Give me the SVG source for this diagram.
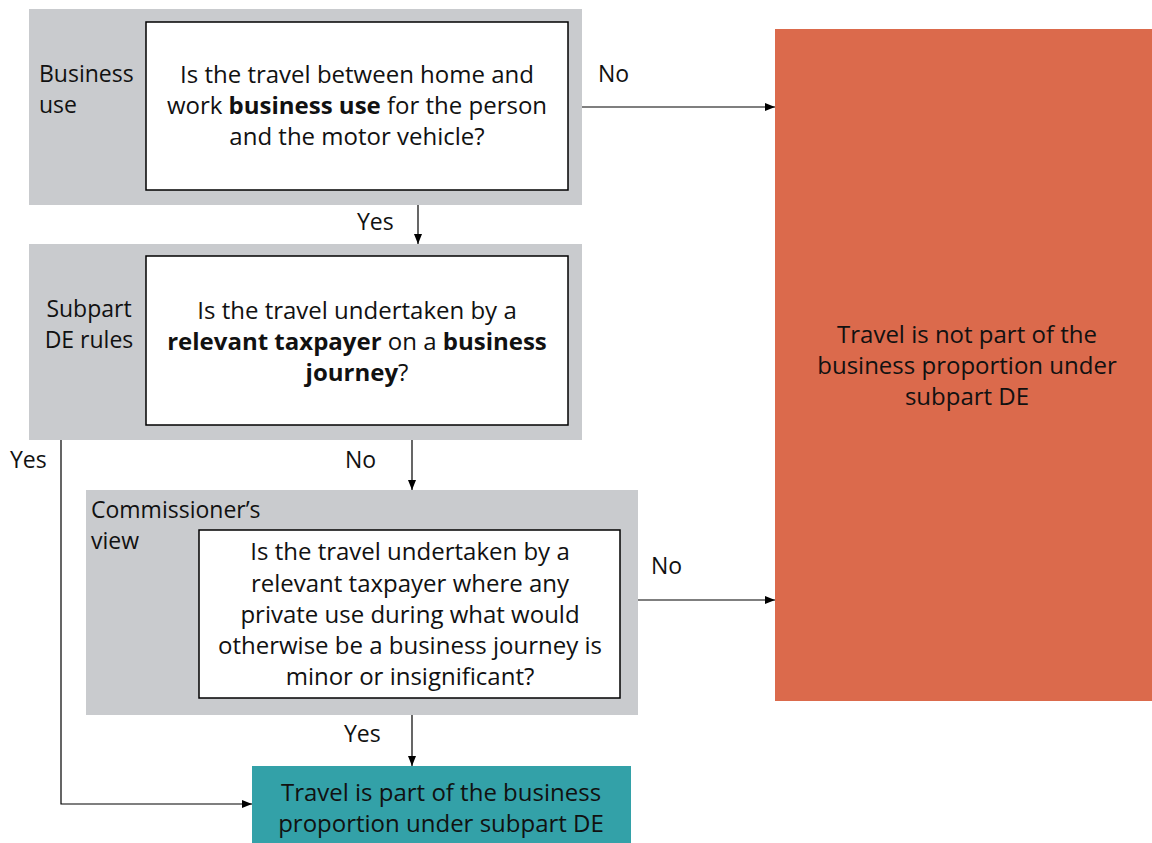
<svg xmlns="http://www.w3.org/2000/svg" width="1152" height="843" viewBox="0 0 1152 843">
<defs>
<marker id="ah" markerWidth="10" markerHeight="8" refX="10" refY="4" orient="auto" markerUnits="userSpaceOnUse">
<path d="M0,0 L10,4 L0,8 Z" fill="#000"/>
</marker>
<style>
text{font-family:"Open Sans","Noto Sans","Liberation Sans",sans-serif;font-size:24px;fill:#111}
.c{text-anchor:middle}
.b{font-weight:bold}
.s{font-size:23px}
.grey{fill:#c9cbce}
.q{fill:#fff;stroke:#000;stroke-width:1.5}
.ln{fill:none;stroke:#000;stroke-width:1.2}
</style>
</defs>
<rect width="1152" height="843" fill="#fff"/>
<g id="stage1">
<rect class="grey" x="29" y="9" width="553" height="196"/>
<text class="s" x="39" y="82">Business</text>
<text class="s" x="39" y="113">use</text>
</g>
<g id="q1">
<rect class="q" x="146" y="22" width="422" height="168"/>
<text class="c" x="357" y="83">Is the travel between home and</text>
<text class="c" x="357" y="114">work <tspan class="b">business use</tspan> for the person</text>
<text class="c" x="357" y="145">and the motor vehicle?</text>
</g>
<g id="stage2">
<rect class="grey" x="29" y="244" width="553" height="196"/>
<text class="c s" x="89" y="317">Subpart</text>
<text class="c s" x="89" y="348">DE rules</text>
</g>
<g id="q2">
<rect class="q" x="146" y="256" width="422" height="169"/>
<text class="c" x="357" y="319">Is the travel undertaken by a</text>
<text class="c" x="357" y="350"><tspan class="b">relevant taxpayer</tspan> on a <tspan class="b">business</tspan></text>
<text class="c" x="357" y="381"><tspan class="b">journey</tspan>?</text>
</g>
<g id="stage3">
<rect class="grey" x="86" y="490" width="552" height="225"/>
<text class="s" x="91" y="518">Commissioner’s</text>
<text class="s" x="91" y="549">view</text>
</g>
<g id="q3">
<rect class="q" x="199" y="530" width="421" height="168"/>
<text class="c" x="410" y="560">Is the travel undertaken by a</text>
<text class="c" x="410" y="592">relevant taxpayer where any</text>
<text class="c" x="410" y="623">private use during what would</text>
<text class="c" x="410" y="654">otherwise be a business journey is</text>
<text class="c" x="410" y="685">minor or insignificant?</text>
</g>
<g id="notpart">
<rect x="775" y="29" width="377" height="672" fill="#db6a4c"/>
<text class="c" x="967" y="343">Travel is not part of the</text>
<text class="c" x="967" y="374">business proportion under</text>
<text class="c" x="967" y="405">subpart DE</text>
</g>
<g id="part">
<rect x="252" y="766" width="379" height="77" fill="#33a1a8"/>
<text class="c" x="441" y="801">Travel is part of the business</text>
<text class="c" x="441" y="832">proportion under subpart DE</text>
</g>
<g id="connectors">
<line class="ln" x1="582" y1="107" x2="775" y2="107" marker-end="url(#ah)"/>
<text class="s" x="598" y="82">No</text>
<line class="ln" x1="418" y1="205" x2="418" y2="244" marker-end="url(#ah)"/>
<text class="s" x="357" y="230">Yes</text>
<line class="ln" x1="412" y1="440" x2="412" y2="490" marker-end="url(#ah)"/>
<text class="s" x="345" y="468">No</text>
<polyline class="ln" points="61,440 61,804 252,804" marker-end="url(#ah)"/>
<text class="s" x="10" y="468">Yes</text>
<line class="ln" x1="638" y1="600" x2="775" y2="600" marker-end="url(#ah)"/>
<text class="s" x="651" y="574">No</text>
<line class="ln" x1="412" y1="715" x2="412" y2="766" marker-end="url(#ah)"/>
<text class="s" x="344" y="742">Yes</text>
</g>
</svg>
